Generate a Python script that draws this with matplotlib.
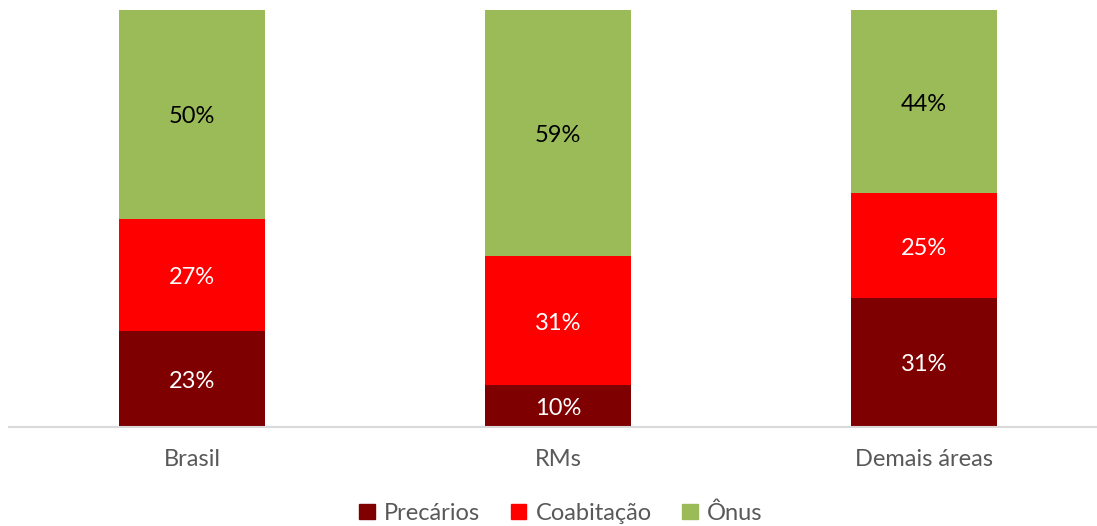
import numpy as np
import matplotlib.pyplot as plt
from matplotlib.patches import Patch

plt.rcParams['font.family'] = ['Lato', 'DejaVu Sans']

categorias = ["Brasil", "RMs", "Demais áreas"]
precarios = [23, 10, 31]
coabitacao = [27, 31, 25]
onus = [50, 59, 44]

series = [
    ("Precários", precarios, "#7F0000", "white"),
    ("Coabitação", coabitacao, "#FF0000", "white"),
    ("Ônus", onus, "#9BBB59", "black"),
]

fig = plt.figure(figsize=(10.97, 5.26), dpi=100)
ax = fig.add_axes([9 / 1097, 99 / 526, 1098 / 1097, 417 / 526])

x = np.arange(len(categorias))
bottom = np.zeros(len(categorias))
for nome, vals, cor, txt in series:
    vals = np.array(vals, dtype=float)
    ax.bar(x, vals, 0.4, bottom=bottom, color=cor, label=nome)
    for xi, b, v in zip(x, bottom, vals):
        ax.text(xi, b + v / 2 - 0.6, f"{v:.0f}%", ha="center", va="center",
                color=txt, fontsize=17)
    bottom += vals

ax.set_xlim(-0.5, 2.5)
ax.set_ylim(0, 100)
ax.set_yticks([])
ax.set_xticks(x)
ax.set_xticklabels(categorias, fontsize=17, color="#595959")
ax.tick_params(axis="x", length=0, pad=16)
for s in ["top", "right", "left"]:
    ax.spines[s].set_visible(False)
ax.spines["bottom"].set_color("#D9D9D9")
ax.spines["bottom"].set_linewidth(1.5)

handles = [Patch(color=c, label=n) for n, _, c, _ in series]
leg = fig.legend(handles=handles, loc="center", bbox_to_anchor=(561 / 1097, 13 / 526),
                 ncol=3, frameon=False, fontsize=17, handlelength=0.65, handleheight=0.65,
                 handletextpad=0.4, columnspacing=1.3)
for t in leg.get_texts():
    t.set_color("#595959")

fig.savefig("out.png", dpi=100)
